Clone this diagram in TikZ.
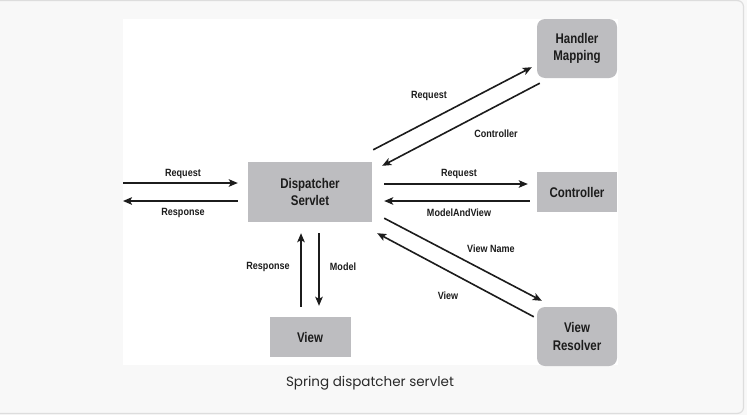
\documentclass[tikz,border=0pt]{standalone}
\usepackage{fontspec}
\setmainfont{Liberation Sans}
\newfontfamily\boxfont[FakeStretch=0.82]{Liberation Sans}
\newfontfamily\lblfont[FakeStretch=0.86]{Liberation Sans}
\newfontfamily\capfont{Poppins}
\usetikzlibrary{arrows.meta,positioning,calc}
\definecolor{boxgray}{HTML}{BDBDC0}
\definecolor{inkdark}{HTML}{1C1C1C}
\definecolor{pagegray}{HTML}{F8F8F8}
\definecolor{framegray}{HTML}{DDDDDD}
\definecolor{captiongray}{HTML}{2A2A2A}

\begin{document}
\begin{tikzpicture}[
  x=1pt,y=-1pt,
  >={Stealth[length=9pt,width=7.5pt,inset=2pt]},
  box/.style={fill=boxgray,inner sep=0pt,align=center,text=inkdark,
    font=\boxfont\bfseries\fontsize{14}{17.5}\selectfont},
  rbox/.style={box,rounded corners=8pt},
  flow/.style={->,line width=1.6pt,draw=inkdark},
  lbl/.style={inner sep=0pt,text=inkdark,
    font=\lblfont\bfseries\fontsize{10.5}{12}\selectfont}
]
\useasboundingbox (0,0) rectangle (747,415);
\fill[pagegray] (0,0) rectangle (747,415);
\draw[framegray,fill=pagegray,line width=1.2pt,rounded corners=6pt]
  (-10,0.6) rectangle (743.5,413.4);
\fill[white] (123,19) rectangle (618,365);

% nodes
\node[box,minimum width=124pt,minimum height=60pt] (ds) at (310,192)
  {Dispatcher\\Servlet};
\node[rbox,minimum width=80pt,minimum height=59pt] (hm) at (577,48.5)
  {Handler\\Mapping};
\node[box,minimum width=80pt,minimum height=40pt] (ctrl) at (577,192)
  {Controller};
\node[box,minimum width=81pt,minimum height=40pt] (view) at (310,337)
  {View};
\node[rbox,minimum width=80pt,minimum height=59pt] (vr) at (577,336.5)
  {View\\Resolver};
\coordinate (client) at (123,192);

% client side
\draw[flow] ($(client)+(0,-9)$) -- ($(ds.west)+(-10,-9)$);
\draw[flow] ($(ds.west)+(-10,9)$) -- ($(client)+(0,9)$);
\node[lbl] (inreq) at (183,174) {Request};
\node[lbl] (outresp) at (183,213) {Response};

% handler mapping
\draw[flow] ($(ds.north east)+(1,-12)$) -- ($(hm.south west)+(-5,-11)$);
\draw[flow] ($(hm.south west)+(3,5)$) -- ($(ds.north east)+(10,4)$);
\node[lbl] (hmreq) at (429,96) {Request};
\node[lbl] (hmctrl) at (496,134) {Controller};

% controller
\draw[flow] ($(ds.east)+(12,-8)$) -- ($(ctrl.west)+(-9,-8)$);
\draw[flow] ($(ctrl.west)+(-7,9)$) -- ($(ds.east)+(12,9)$);
\node[lbl] (ctrlreq) at (459,174) {Request};
\node[lbl] (mav) at (459,213) {ModelAndView};

% view resolver
\draw[flow] ($(ds.south east)+(12,-4)$) -- ($(vr.north west)+(5,-6)$);
\draw[flow] ($(vr.north west)+(-3,10)$) -- ($(ds.south east)+(5,11)$);
\node[lbl] (vname) at (491,249) {View Name};
\node[lbl] (vback) at (448,296) {View};

% view
\draw[flow] ($(view.north)+(-9,-10)$) -- ($(ds.south)+(-9,11)$);
\draw[flow] ($(ds.south)+(9,11)$) -- ($(view.north)+(9,-11)$);
\node[lbl] (vresp) at (268,267) {Response};
\node[lbl] (vmodel) at (343,267) {Model};

\node[text=captiongray,font=\capfont\fontsize{13.5}{15}\selectfont]
  (cap) at (370,383) {Spring dispatcher servlet};
\end{tikzpicture}
\end{document}
